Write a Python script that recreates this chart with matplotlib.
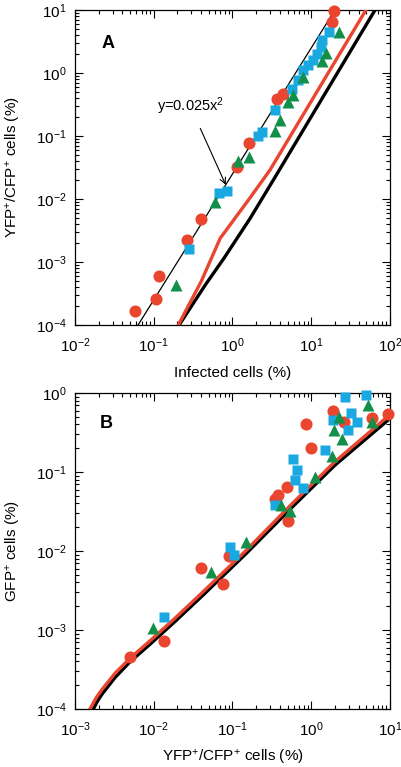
import matplotlib
matplotlib.use("Agg")
import matplotlib.pyplot as plt
from matplotlib.ticker import LogLocator, NullFormatter

plt.rcParams['font.family'] = ['Liberation Sans', 'DejaVu Sans']
plt.rcParams['mathtext.fontset'] = 'custom'
plt.rcParams['mathtext.rm'] = 'Liberation Sans'
plt.rcParams['mathtext.it'] = 'Liberation Sans:italic'
plt.rcParams['mathtext.bf'] = 'Liberation Sans:bold'
plt.rcParams['mathtext.default'] = 'regular'

RED = "#E9452F"
BLUE = "#1AA8E0"
GREEN = "#12904A"

# -------------------------------
# PANEL A DATA
# -------------------------------
a_red_x = [19.5, 18.6, 4.4, 3.67, 1.62, 1.14, 0.4, 0.264, 0.117, 0.107, 0.058]
a_red_y = [9.6, 6.5, 0.46, 0.386, 0.078, 0.032, 0.0048, 0.00224, 0.0006, 0.00026, 0.000166]

a_blue_x = [16.8, 13.7, 13.3, 11.8, 10.5, 9.1, 7.9, 6.8, 5.7, 3.47, 2.37, 2.11, 0.85, 0.675, 0.28]
a_blue_y = [4.5, 3.3, 2.6, 2.0, 1.6, 1.34, 1.12, 0.77, 0.56, 0.26, 0.116, 0.1, 0.0134, 0.0124, 0.00162]

a_green_x = [22.5, 15.4, 13.7, 7.9, 5.86, 5.07, 4.0, 3.47, 1.62, 1.17, 0.6, 0.19]
a_green_y = [4.5, 2.07, 1.55, 0.86, 0.45, 0.35, 0.18, 0.12, 0.046, 0.04, 0.0089, 0.00043]

a_model_red_x = [0.205, 0.40, 0.70, 0.80, 1.59, 2.99, 49.5]
a_model_red_y = [1e-4, 0.00049, 0.0024, 0.0030, 0.0096, 0.0288, 10]
a_model_black_x = [0.21, 0.45, 0.78, 1.67, 3.3, 64.6]
a_model_black_y = [1e-4, 0.00043, 0.00115, 0.0049, 0.02, 10]

fit_x = [0.0632, 20.0]
fit_coef = 0.025

# -------------------------------
# PANEL B DATA
# -------------------------------
b_red_x = [9.5, 5.95, 1.87, 2.6, 0.85, 0.98, 0.49, 0.38, 0.347, 0.5, 0.091, 0.04, 0.076, 0.0136, 0.005]
b_red_y = [0.54, 0.48, 0.6, 0.43, 0.4, 0.2, 0.064, 0.051, 0.046, 0.024, 0.0086, 0.0061, 0.0038, 0.00073, 0.00046]

b_blue_x = [2.69, 4.95, 3.16, 1.9, 3.78, 2.96, 1.5, 0.59, 0.65, 0.62, 0.79, 0.347, 0.093, 0.104, 0.0135]
b_blue_y = [0.88, 0.94, 0.56, 0.455, 0.43, 0.34, 0.19, 0.145, 0.106, 0.079, 0.062, 0.038, 0.0113, 0.0089, 0.00147]

b_green_x = [5.3, 2.27, 5.95, 1.96, 2.44, 1.85, 1.12, 0.41, 0.54, 0.148, 0.053, 0.0097]
b_green_y = [0.7, 0.5, 0.43, 0.34, 0.26, 0.16, 0.086, 0.038, 0.032, 0.013, 0.0054, 0.00105]

b_model_red_x = [0.00155, 0.00185, 0.00218, 0.00322, 0.00499, 0.00942, 0.0186, 0.0406, 0.151, 0.59, 2.0, 9.7]
b_model_red_y = [1.0e-4, 1.38e-4, 1.74e-4, 2.83e-4, 4.38e-4, 7.62e-4, 0.00141, 0.00293, 0.0103, 0.041, 0.135, 0.52]
b_model_black_x = [0.00171, 0.00195, 0.00218, 0.00322, 0.00499, 0.00942, 0.0186, 0.0406, 0.151, 0.59, 2.0, 9.6]
b_model_black_y = [1.0e-4, 1.28e-4, 1.52e-4, 2.5e-4, 3.95e-4, 6.9e-4, 0.00128, 0.00266, 0.0094, 0.037, 0.122, 0.46]


def style_axes(ax):
    ax.set_xscale("log")
    ax.set_yscale("log")
    ax.xaxis.set_major_locator(LogLocator(base=10, numticks=20))
    ax.yaxis.set_major_locator(LogLocator(base=10, numticks=20))
    ax.xaxis.set_minor_locator(LogLocator(base=10, subs=range(2, 10), numticks=20))
    ax.yaxis.set_minor_locator(LogLocator(base=10, subs=range(2, 10), numticks=20))
    ax.xaxis.set_minor_formatter(NullFormatter())
    ax.yaxis.set_minor_formatter(NullFormatter())
    ax.tick_params(which="both", direction="in", top=True, right=True,
                   labelsize=11, width=0.8)
    ax.tick_params(which="major", length=6)
    ax.tick_params(axis="x", which="major", pad=8)
    ax.tick_params(axis="y", which="major", pad=6)
    ax.tick_params(which="minor", length=3)
    for s in ax.spines.values():
        s.set_linewidth(0.9)


def draw_points(ax, rx, ry, bx, by, gx, gy):
    ax.plot(rx, ry, "o", color=RED, ms=8.7, mec="none", clip_on=False, zorder=4)
    ax.plot(bx, by, "s", color=BLUE, ms=7, mec="none", clip_on=False, zorder=5)
    ax.plot(gx, gy, "^", color=GREEN, ms=8, mec="none", clip_on=False, zorder=6)


fig = plt.figure(figsize=(4.02, 7.67), dpi=100)

# -------------------------------
# PANEL A
# -------------------------------
axA = fig.add_axes([75 / 402, 1 - 325 / 767, 315 / 402, 315 / 767])
style_axes(axA)
fit_y = [fit_coef * x ** 2 for x in fit_x]
axA.plot(fit_x, fit_y, color="black", lw=0.9, zorder=2)
axA.plot(a_model_black_x, a_model_black_y, color="black", lw=2.4, zorder=3)
axA.plot(a_model_red_x, a_model_red_y, color=RED, lw=2.4, zorder=3)
draw_points(axA, a_red_x, a_red_y, a_blue_x, a_blue_y, a_green_x, a_green_y)
axA.set_xlim(1e-2, 1e2)
axA.set_ylim(1e-4, 1e1)
axA.set_xlabel("Infected cells (%)", fontsize=11, labelpad=8)
axA.set_ylabel(r"YFP$^{+}$/CFP$^{+}$ cells (%)", fontsize=11, labelpad=9)
axA.annotate(r"y=0.025x$^{2}$", xy=(0.82, fit_coef * 0.82 ** 2), xytext=(0.29, 0.3),
             fontsize=10.5, ha="center", va="center",
             arrowprops=dict(arrowstyle="->", color="black", lw=0.8,
                             shrinkA=7, shrinkB=0))
axA.text(0.105, 0.895, "A", transform=axA.transAxes, fontsize=13,
         fontweight="bold", ha="center", va="center")

# -------------------------------
# PANEL B
# -------------------------------
axB = fig.add_axes([75 / 402, 1 - 709 / 767, 315 / 402, 316 / 767])
style_axes(axB)
axB.plot(b_model_black_x, b_model_black_y, color="black", lw=2.4, zorder=3)
axB.plot(b_model_red_x, b_model_red_y, color=RED, lw=2.4, zorder=3)
draw_points(axB, b_red_x, b_red_y, b_blue_x, b_blue_y, b_green_x, b_green_y)
axB.set_xlim(1e-3, 1e1)
axB.set_ylim(1e-4, 1e0)
axB.set_xlabel(r"YFP$^{+}$/CFP$^{+}$ cells (%)", fontsize=11, labelpad=7)
axB.set_ylabel(r"GFP$^{+}$ cells (%)", fontsize=11, labelpad=9)
axB.text(0.1, 0.905, "B", transform=axB.transAxes, fontsize=13,
         fontweight="bold", ha="center", va="center")

fig.savefig("out.png", dpi=100)
plt.close(fig)
